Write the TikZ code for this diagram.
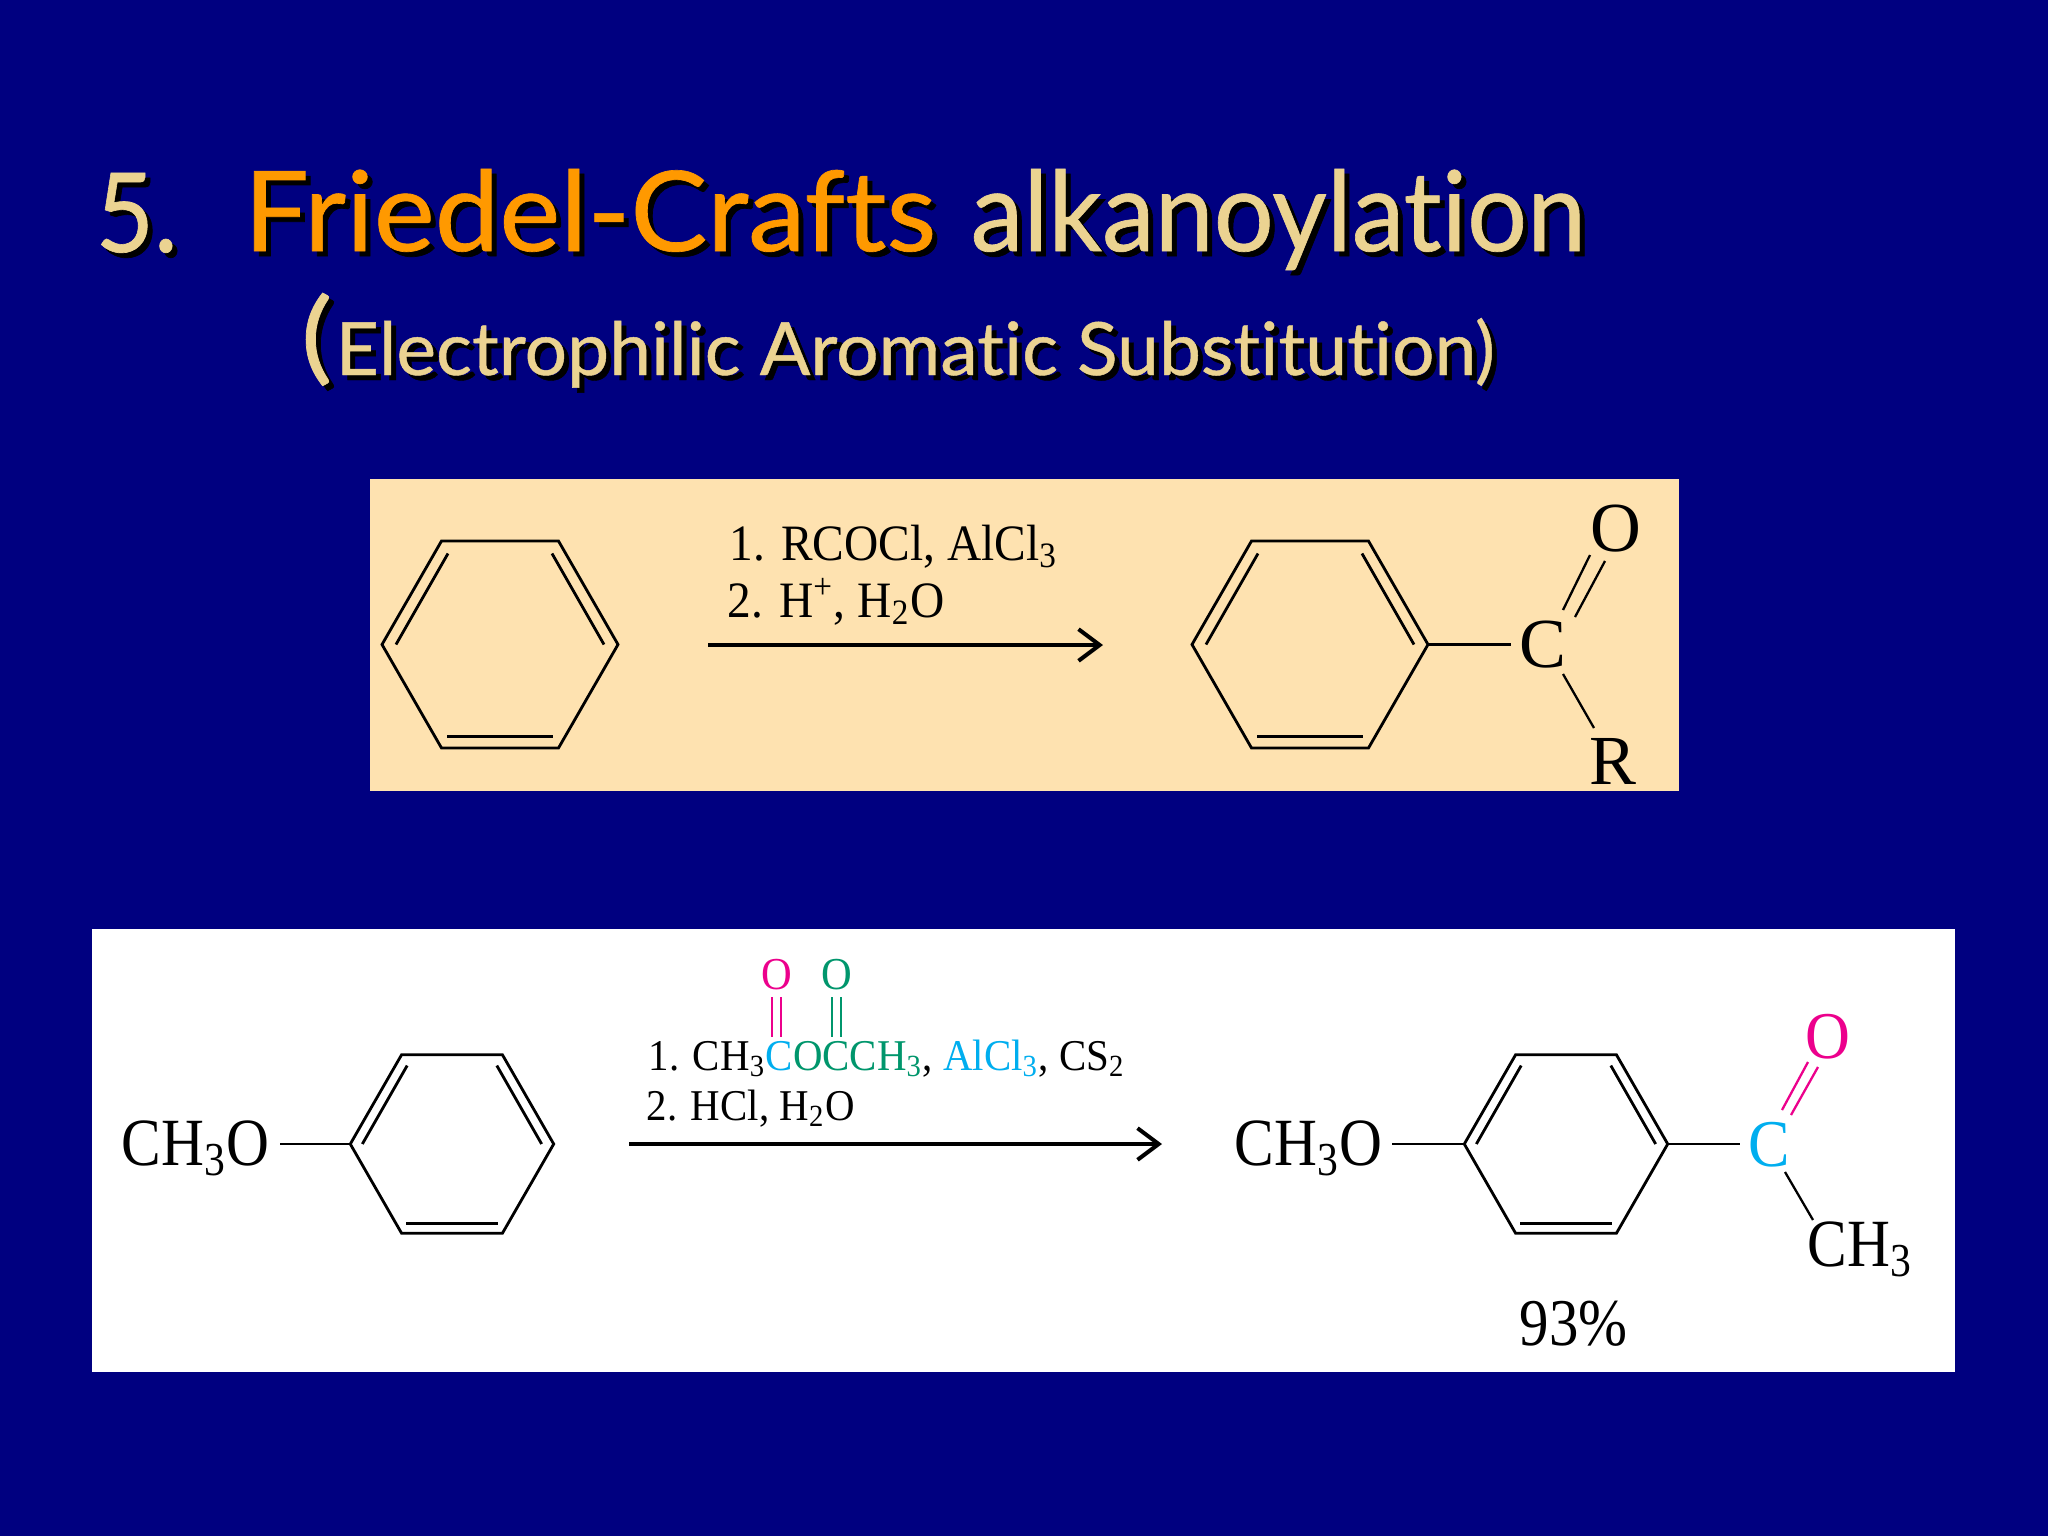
\documentclass[tikz,border=0pt]{standalone}
\usepackage{fontspec}
\usepackage{graphicx}
\usetikzlibrary{arrows.meta}
\setmainfont{Liberation Serif}
\newfontfamily\chemfont[FakeStretch=0.88]{Liberation Serif}
\newfontfamily\rxnfont[FakeStretch=0.93]{Liberation Serif}
\newfontfamily\titlefont[Ligatures={NoCommon,NoRare,NoContextual},FakeBold=0.6]{Lato}
\definecolor{slidenavy}{HTML}{000080}
\definecolor{titlecream}{HTML}{EBD391}
\definecolor{titleorange}{HTML}{FF9900}
\definecolor{boxcream}{HTML}{FEE2B0}
\definecolor{chemmagenta}{HTML}{EC008C}
\definecolor{chemcyan}{HTML}{00AEEF}
\definecolor{chemgreen}{HTML}{00966C}
\tikzset{
	label/.style={inner sep=0pt, anchor=base west, font=\chemfont},
	reagent/.style={inner sep=0pt, anchor=base west, font=\rxnfont},
	atom/.style={inner sep=0pt, font=\fontsize{20}{21}\selectfont},
	bond/.style={line width=0.8pt},
	thinbond/.style={line width=0.65pt},
	rxnarrow/.style={line width=1.15pt, -{Straight Barb[length=6pt,width=9pt]}},
	ring/.pic={
		\coordinate (-l) at (-118,0);
		\coordinate (-r) at ( 118,0);
		\draw[bond, line join=miter] (-l) -- (-58.5,-103.5) -- (58.5,-103.5) -- (-r) -- (58.5,103.5) -- (-58.5,103.5) -- cycle;
		\draw[bond] (-52,-91) -- (-104,0);
		\draw[bond] ( 52,-91) -- ( 104,0);
		\draw[bond] (-53,92) -- (53,92);
	}
}
% one piece of the title with its shadow
\newcommand{\titlepart}[7]{
	\node[inner sep=0pt, anchor=base west, text=black] (#1s) at (#2+5,#3+5) {\resizebox{#5cm}{#6cm}{\titlefont #7}};
	\node[inner sep=0pt, anchor=base west, text=#4] (#1) at (#2,#3) {\resizebox{#5cm}{#6cm}{\titlefont #7}};
}
\begin{document}
\begin{tikzpicture}[x=0.01cm, y=-0.01cm]
	\fill[slidenavy] (0,0) rectangle (2048,1536);
	\useasboundingbox (0,0) rectangle (2048,1536);

	% title
	\titlepart{five}{95}{252}{titlecream}{0.82}{0.79}{5.}
	\titlepart{fc}{243}{251}{titleorange}{6.92}{0.82}{Friedel-Crafts}
	\titlepart{alk}{970}{251}{titlecream}{6.15}{0.82}{alkanoylation}
	\titlepart{paren}{300}{371}{titlecream}{0.32}{0.78}{(}
	\titlepart{eas}{335}{375}{titlecream}{11.58}{0.57}{Electrophilic Aromatic Substitution)}

	% upper reaction
	\fill[boxcream] (370,479) rectangle (1679,791);
	\pic (ra) at (500,644.5) {ring};
	\pic (rb) at (1310,644.5) {ring};

	\node[reagent] (ua) at (729,560) {\fontsize{14.5}{15}\selectfont 1. RCOCl, AlCl\textsubscript{3}};
	\node[reagent] (ub) at (727,617) {\fontsize{14.5}{15}\selectfont 2. H\textsuperscript{+}, H\textsubscript{2}O};
	\coordinate (uas) at (708,645);
	\coordinate (uae) at (1103,645);
	\draw[rxnarrow] (uas) -- (uae);

	\node[atom] (uc) at (1543,645) {C};
	\node[atom] (uo) at (1616,529) {O};
	\node[atom] (ur) at (1613,761) {R};
	\coordinate (uca) at (1511,644.5);
	\draw[bond] (rb-r) -- (uca);
	\draw[thinbond] (1563,610) -- (1590,555);
	\draw[thinbond] (1575,617) -- (1605,561);
	\draw[thinbond] (1563,674) -- (1594,728);

	% lower reaction
	\fill[white] (92,929) rectangle (1955,1372);
	\pic[scale=0.862] (rc) at (452,1144) {ring};
	\pic[scale=0.862] (rd) at (1566,1144) {ring};

	\node[label] (ch3ol) at (121,1165) {\fontsize{19.2}{20}\selectfont CH\textsubscript{3}O};
	\coordinate (cl) at (280,1144);
	\draw[bond] (cl) -- (rc-l);

	\node[reagent] (la) at (648,1070) {\fontsize{12.5}{14}\selectfont 1. CH\textsubscript{3}\textcolor{chemcyan}{C}\textcolor{chemgreen}{OCCH\textsubscript{3}}, \textcolor{chemcyan}{AlCl\textsubscript{3}}, CS\textsubscript{2}};
	\node[reagent] (lb) at (646,1120) {\fontsize{12.5}{14}\selectfont 2. HCl, H\textsubscript{2}O};
	\node[inner sep=0pt, font=\rxnfont\fontsize{13}{14}\selectfont, text=chemmagenta] (omag) at (777,975) {O};
	\node[inner sep=0pt, font=\rxnfont\fontsize{13}{14}\selectfont, text=chemgreen] (ogrn) at (837,975) {O};
	\draw[chemmagenta, line width=0.45pt] (772,997) -- (772,1037);
	\draw[chemmagenta, line width=0.45pt] (781,997) -- (781,1037);
	\draw[chemgreen, line width=0.45pt] (832,997) -- (832,1037);
	\draw[chemgreen, line width=0.45pt] (841,997) -- (841,1037);

	\coordinate (las) at (629,1144);
	\coordinate (lae) at (1162,1144);
	\draw[rxnarrow] (las) -- (lae);

	\node[label] (ch3or) at (1234,1165) {\fontsize{19.2}{20}\selectfont CH\textsubscript{3}O};
	\coordinate (cr) at (1392,1144);
	\draw[bond] (cr) -- (rd-l);
	\coordinate (lca) at (1740,1144);
	\draw[bond] (rd-r) -- (lca);

	\node[atom, text=chemcyan, font=\rxnfont\fontsize{19}{20}\selectfont] (lc) at (1769,1145) {C};
	\node[atom, text=chemmagenta, font=\rxnfont\fontsize{19}{20}\selectfont] (lo) at (1828,1037) {O};
	\draw[chemmagenta, thinbond] (1782,1110) -- (1808,1062);
	\draw[chemmagenta, thinbond] (1791,1115) -- (1818,1067);
	\draw[thinbond] (1785,1172) -- (1813,1220);
	\node[label] (ch3) at (1807,1266) {\fontsize{19.2}{20}\selectfont CH\textsubscript{3}};
	\node[label] (yield) at (1519,1345) {\fontsize{19}{20}\selectfont 93\%};
\end{tikzpicture}
\end{document}
